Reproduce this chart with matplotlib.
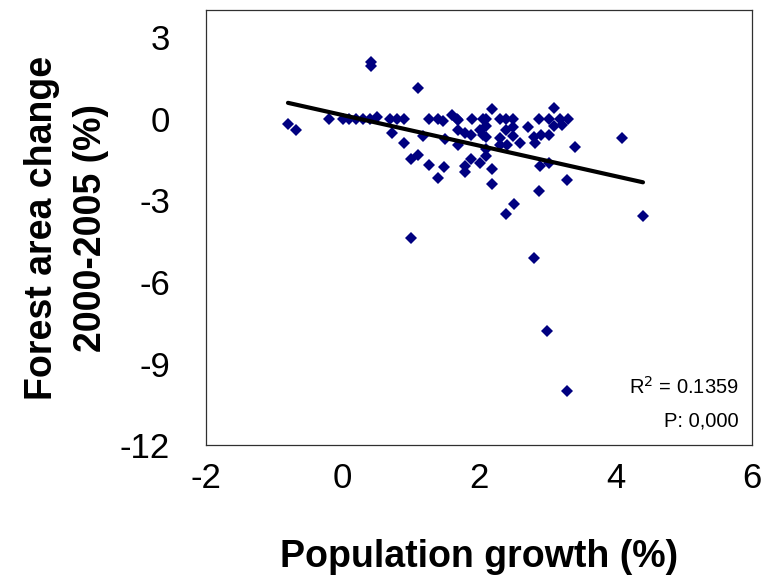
import numpy as np
import matplotlib
matplotlib.use("Agg")
import matplotlib.pyplot as plt

plt.rcParams['font.family'] = ['Liberation Sans', 'DejaVu Sans']
plt.rcParams['axes.unicode_minus'] = False

# population growth (%) vs forest area change 2000-2005 (%)
pop_growth = [
    -0.80, -0.68, -0.20, 0.00, 0.10, 0.20, 0.30, 0.40, 0.41, 0.41,
    0.50, 0.70, 0.72, 0.80, 0.90, 0.90, 1.00, 1.00, 1.11, 1.11,
    1.18, 1.27, 1.27, 1.40, 1.40, 1.47, 1.50, 1.48, 1.60, 1.67,
    1.69, 1.69, 1.69, 1.80, 1.80, 1.80, 1.89, 1.88, 1.88, 2.01,
    2.01, 2.06, 2.06,
    2.10, 2.10, 2.10, 2.10, 2.10, 2.19, 2.19, 2.19, 2.30, 2.31,
    2.30, 2.40, 2.40, 2.41, 2.39, 2.50, 2.50, 2.50, 2.51, 2.60,
    2.71, 2.80, 2.82, 2.80, 2.88, 2.90, 2.89, 2.88, 3.02, 3.02,
    3.02, 3.00, 3.09, 3.10, 3.19, 3.22, 3.30, 3.29, 3.29, 3.41,
    4.10, 4.40,
]
forest_change = [
    -0.20, -0.40, 0.00, 0.00, 0.00, 0.00, 0.00, 0.00, 2.08, 1.93,
    0.05, 0.00, -0.52, 0.00, 0.00, -0.90, -1.48, -4.37, 1.14, -1.35,
    -0.62, 0.00, -1.70, 0.00, -2.17, -0.08, -0.76, -1.78, 0.15, 0.00,
    -0.06, -0.42, -0.98, -0.52, -1.72, -1.95, 0.00, -0.60, -1.48, -0.41,
    -1.63, 0.00, -0.60,
    0.00, -0.28, -0.66, -1.10, -1.36, 0.35, -1.85, -2.39, 0.00, -0.72,
    -0.95, 0.00, -0.42, -0.98, -3.49, 0.00, -0.30, -0.62, -3.12, -0.90,
    -0.32, -0.66, -0.88, -5.11, 0.00, -0.60, -1.72, -2.67, 0.00, -0.60,
    -1.64, -7.81, 0.41, -0.28, 0.00, -0.22, 0.00, -2.24, -10.02, -1.05,
    -0.70, -3.58,
]
r_squared = "0.1359"
p_value = "0,000"

x_ticks = [-2, 0, 2, 4, 6]
y_ticks = [-12, -9, -6, -3, 0, 3]

x = np.array(pop_growth)
y = np.array(forest_change)
slope, intercept = np.polyfit(x, y, 1)
fit_x = np.array([x.min(), x.max()])
fit_y = slope * fit_x + intercept

fig = plt.figure(figsize=(7.66, 5.88), dpi=100)
ax = fig.add_axes([0.269, 0.243, 0.713, 0.740])

ax.plot(x, y, linestyle='none', marker='D', markersize=6.3,
        color='#000080', markeredgewidth=0)
ax.plot(fit_x, fit_y, color='black', linewidth=3, solid_capstyle='round')

ax.set_xlim(-2, 6)
ax.set_ylim(-12, 4)
ax.set_xticks(x_ticks)
ax.set_yticks(y_ticks)
ax.tick_params(length=0, labelsize=25)
ax.tick_params(axis='x', pad=12)
ax.tick_params(axis='y', pad=26)
for s in ax.spines.values():
    s.set_linewidth(0.9)
    s.set_color('#303030')

ax.set_xlabel('Population growth (%)', fontsize=27, fontweight='bold', labelpad=32)
ax.set_ylabel('Forest area change\n2000-2005 (%)', fontsize=27, fontweight='bold',
              labelpad=8, linespacing=1.45)

ax.text(0.975, 0.135, f'R$^2$ = {r_squared}', transform=ax.transAxes,
        ha='right', va='center', fontsize=14.5)
ax.text(0.975, 0.055, f'P: {p_value}', transform=ax.transAxes,
        ha='right', va='center', fontsize=14.5)

fig.savefig('out.png', dpi=100)
